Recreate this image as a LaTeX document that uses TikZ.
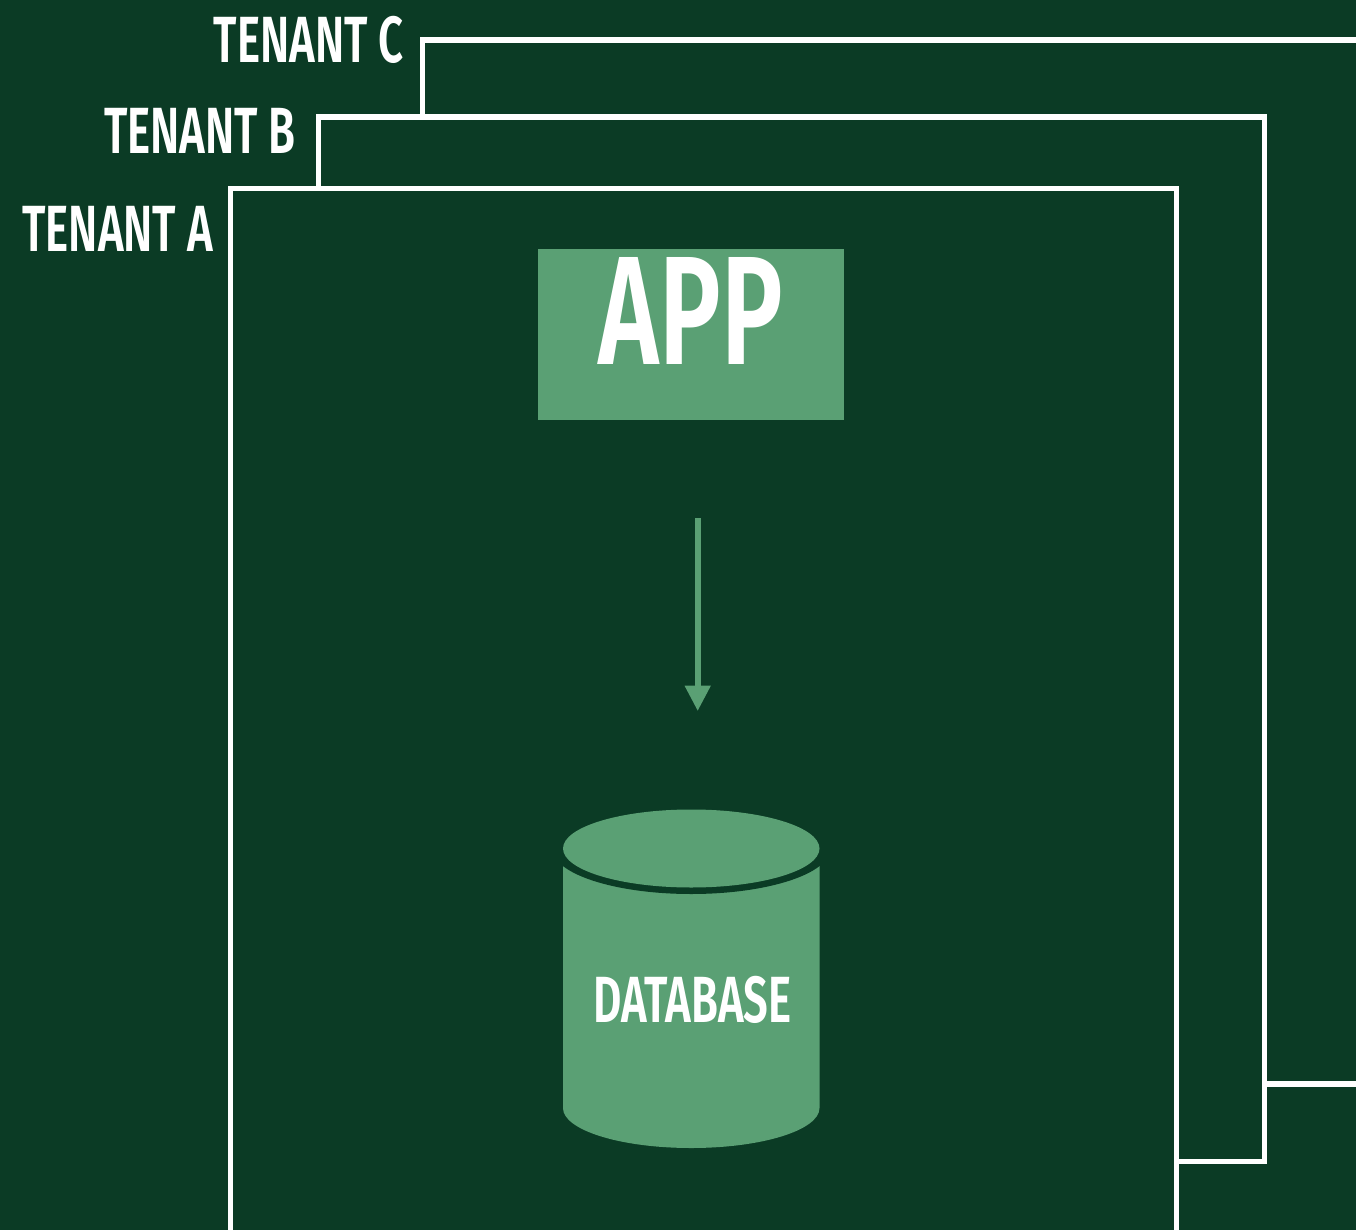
\documentclass[tikz,border=0pt]{standalone}
\usepackage{fontspec}
\setmainfont{Fira Sans}[FakeStretch=0.67,BoldFont=* SemiBold]
\usetikzlibrary{arrows.meta}
\definecolor{bgdark}{HTML}{0B3B25}
\definecolor{midgreen}{HTML}{5AA074}
\tikzset{
  tenantline/.style={draw=white,line width=3.9pt,miter limit=10},
  tenantlabel/.style={text=white,inner sep=0pt,anchor=base,font=\fontsize{49}{49}\selectfont\bfseries},
  dblabel/.style={text=white,inner sep=0pt,anchor=base,font=\fontsize{49}{49}\selectfont\bfseries},
  applabel/.style={text=white,inner sep=0pt,anchor=base,font=\fontsize{116}{116}\selectfont\bfseries},
  appbox/.style={fill=midgreen,inner sep=0pt,minimum width=229.5pt,minimum height=128.25pt},
  flow/.style={draw=midgreen,line width=4.2pt,-{Triangle[length=19pt,width=18.5pt,fill=midgreen]}},
}
\begin{document}
\begin{tikzpicture}[x=0.75pt,y=-0.75pt]
\useasboundingbox (0,0) rectangle (1356,1230);
\fill[bgdark] (0,0) rectangle (1356,1230);
% tenant frames
\draw[tenantline] (422.5,117) -- (422.5,40) -- (1356,40);
\draw[tenantline] (1264.5,1084) -- (1356,1084);
\draw[tenantline] (318.5,188.5) -- (318.5,117) -- (1264.5,117) -- (1264.5,1161.5) -- (1176.5,1161.5);
\draw[tenantline] (230.5,1230) -- (230.5,188.5) -- (1176.5,188.5) -- (1176.5,1230);
% labels
\node[tenantlabel] (tc) at (308.5,62.5) {TENANT C};
\node[tenantlabel] (tb) at (200,153.5) {TENANT B};
\node[tenantlabel] (ta) at (117.5,251.5) {TENANT A};
% app
\node[appbox] (app) at (691,334.5) {};
\node[applabel] (applbl) at (691,365) {APP};
% arrow
\coordinate (flowstart) at (697.7,518);
\coordinate (flowend) at (697.7,711);
\draw[flow] (flowstart) -- (flowend);
% database cylinder
\fill[midgreen] (563,850) -- (819.5,850) -- (819.5,1108) arc[start angle=0,end angle=180,x radius=128.25,y radius=40] -- cycle;
\fill[bgdark] (691.25,848.5) ellipse[x radius=139,y radius=45.5];
\fill[bgdark] (540,840) rectangle (563,880);
\fill[bgdark] (819.5,840) rectangle (843,880);
\fill[midgreen] (691.25,848.5) ellipse[x radius=128.25,y radius=39];
\node[dblabel] (db) at (692.5,1022.5) {DATABASE};
\end{tikzpicture}
\end{document}
